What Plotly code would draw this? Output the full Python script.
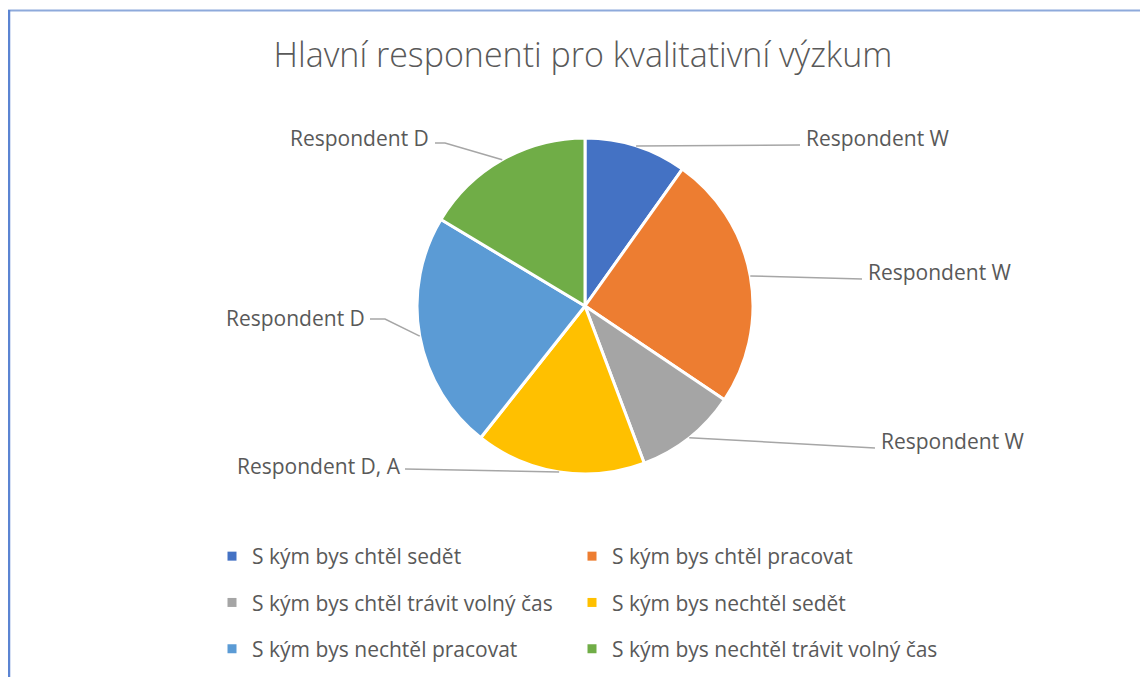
import math
import plotly.graph_objects as go

# ---------------- data ----------------
categories = [
    "S kým bys chtěl sedět",
    "S kým bys chtěl pracovat",
    "S kým bys chtěl trávit volný čas",
    "S kým bys nechtěl sedět",
    "S kým bys nechtěl pracovat",
    "S kým bys nechtěl trávit volný čas",
]
values = [6, 15, 6, 10, 14, 10]
slice_labels = [
    "Respondent W",
    "Respondent W",
    "Respondent W",
    "Respondent D, A",
    "Respondent D",
    "Respondent D",
]
title_text = "Hlavní responenti pro kvalitativní výzkum"

# ---------------- style ----------------
colors = ["#4472C4", "#ED7D31", "#A5A5A5", "#FFC000", "#5B9BD5", "#70AD47"]
OFF = 8                      # default page body margin
W, H = 1148 - OFF, 677 - OFF
FONT = "Open Sans"
TXT = "#595959"
CX, CY, R = 585, 306, 168    # pie centre / radius in window pixels

# label layout (window pixels): line end point and text anchor
LINE_END = [(800, 145), (862, 279), (875, 448), (405, 469), (370, 319), (435, 143)]
ELBOW = [0, 0, 0, 0, 15, 10]
TEXT_POS = [(804, 138, "left"), (866, 272, "left"), (879, 441, "left"),
            (403, 466, "right"), (367, 318, "right"), (431, 138, "right")]


def px(x):
    return (x - OFF) / W


def py(y):
    return 1 - (y - OFF) / H


fig = go.Figure()

fig.add_trace(go.Pie(
    labels=categories,
    values=values,
    sort=False,
    direction="clockwise",
    rotation=0,
    textinfo="none",
    hoverinfo="label+value+percent",
    marker=dict(colors=colors, line=dict(color="white", width=3)),
    domain=dict(x=[px(CX - R), px(CX + R)], y=[py(CY + R), py(CY - R)]),
    showlegend=False,
))

# legend entries (two columns, drawn by plotly's legends)
for i, (cat, col) in enumerate(zip(categories, colors)):
    fig.add_trace(go.Scatter(
        x=[None], y=[None], mode="markers", name=cat,
        marker=dict(symbol="square", size=9, color=col),
        legendgroup=f"g{i}",
        legend="legend" if i % 2 == 0 else "legend2",
        hoverinfo="skip",
    ))

# leader lines and labels derived from slice mid-angles
total = sum(values)
cum = 0
annotations = []
shapes = []
for i, v in enumerate(values):
    mid = (cum + v / 2) / total * 2 * math.pi
    cum += v
    sx = CX + R * math.sin(mid)
    sy = CY - R * math.cos(mid)
    ex, ey = LINE_END[i]
    right_side = TEXT_POS[i][2] == "left"
    elx = ex - ELBOW[i] if right_side else ex + ELBOW[i]
    path = f"M {px(sx)},{py(sy)} L {px(elx)},{py(ey)} L {px(ex)},{py(ey)}"
    shapes.append(dict(type="path", path=path, xref="paper", yref="paper",
                       line=dict(color="#A6A6A6", width=1.5)))
    tx, ty, anc = TEXT_POS[i]
    annotations.append(dict(
        x=px(tx), y=py(ty), xref="paper", yref="paper", text=slice_labels[i],
        showarrow=False, xanchor=anc, yanchor="middle",
        font=dict(family=FONT, size=21, color=TXT),
    ))

# chart border (top and left edges visible)
shapes.append(dict(type="line", xref="paper", yref="paper",
                   x0=px(8), y0=py(10.5), x1=px(1160), y1=py(10.5),
                   line=dict(color="#8EAADB", width=2)))
shapes.append(dict(type="line", xref="paper", yref="paper",
                   x0=px(9), y0=py(10), x1=px(9), y1=py(690),
                   line=dict(color="#5B84D2", width=2.5)))

legend_common = dict(
    font=dict(family=FONT, size=21, color=TXT),
    bgcolor="rgba(0,0,0,0)", borderwidth=0,
    orientation="v", traceorder="grouped", tracegroupgap=16,
    xanchor="left", yanchor="top",
)

fig.update_layout(
    width=W, height=H,
    margin=dict(l=0, r=0, t=0, b=0),
    paper_bgcolor="white", plot_bgcolor="white",
    title=dict(text=title_text, x=px(583), xanchor="center",
               y=py(55), yanchor="middle", yref="container",
               font=dict(family=FONT, size=34, color=TXT, weight=300)),
    xaxis=dict(visible=False), yaxis=dict(visible=False),
    legend=dict(x=px(212), y=py(536), **legend_common),
    legend2=dict(x=px(572), y=py(536), **legend_common),
    annotations=annotations,
    shapes=shapes,
)

fig.write_html("out.html")
